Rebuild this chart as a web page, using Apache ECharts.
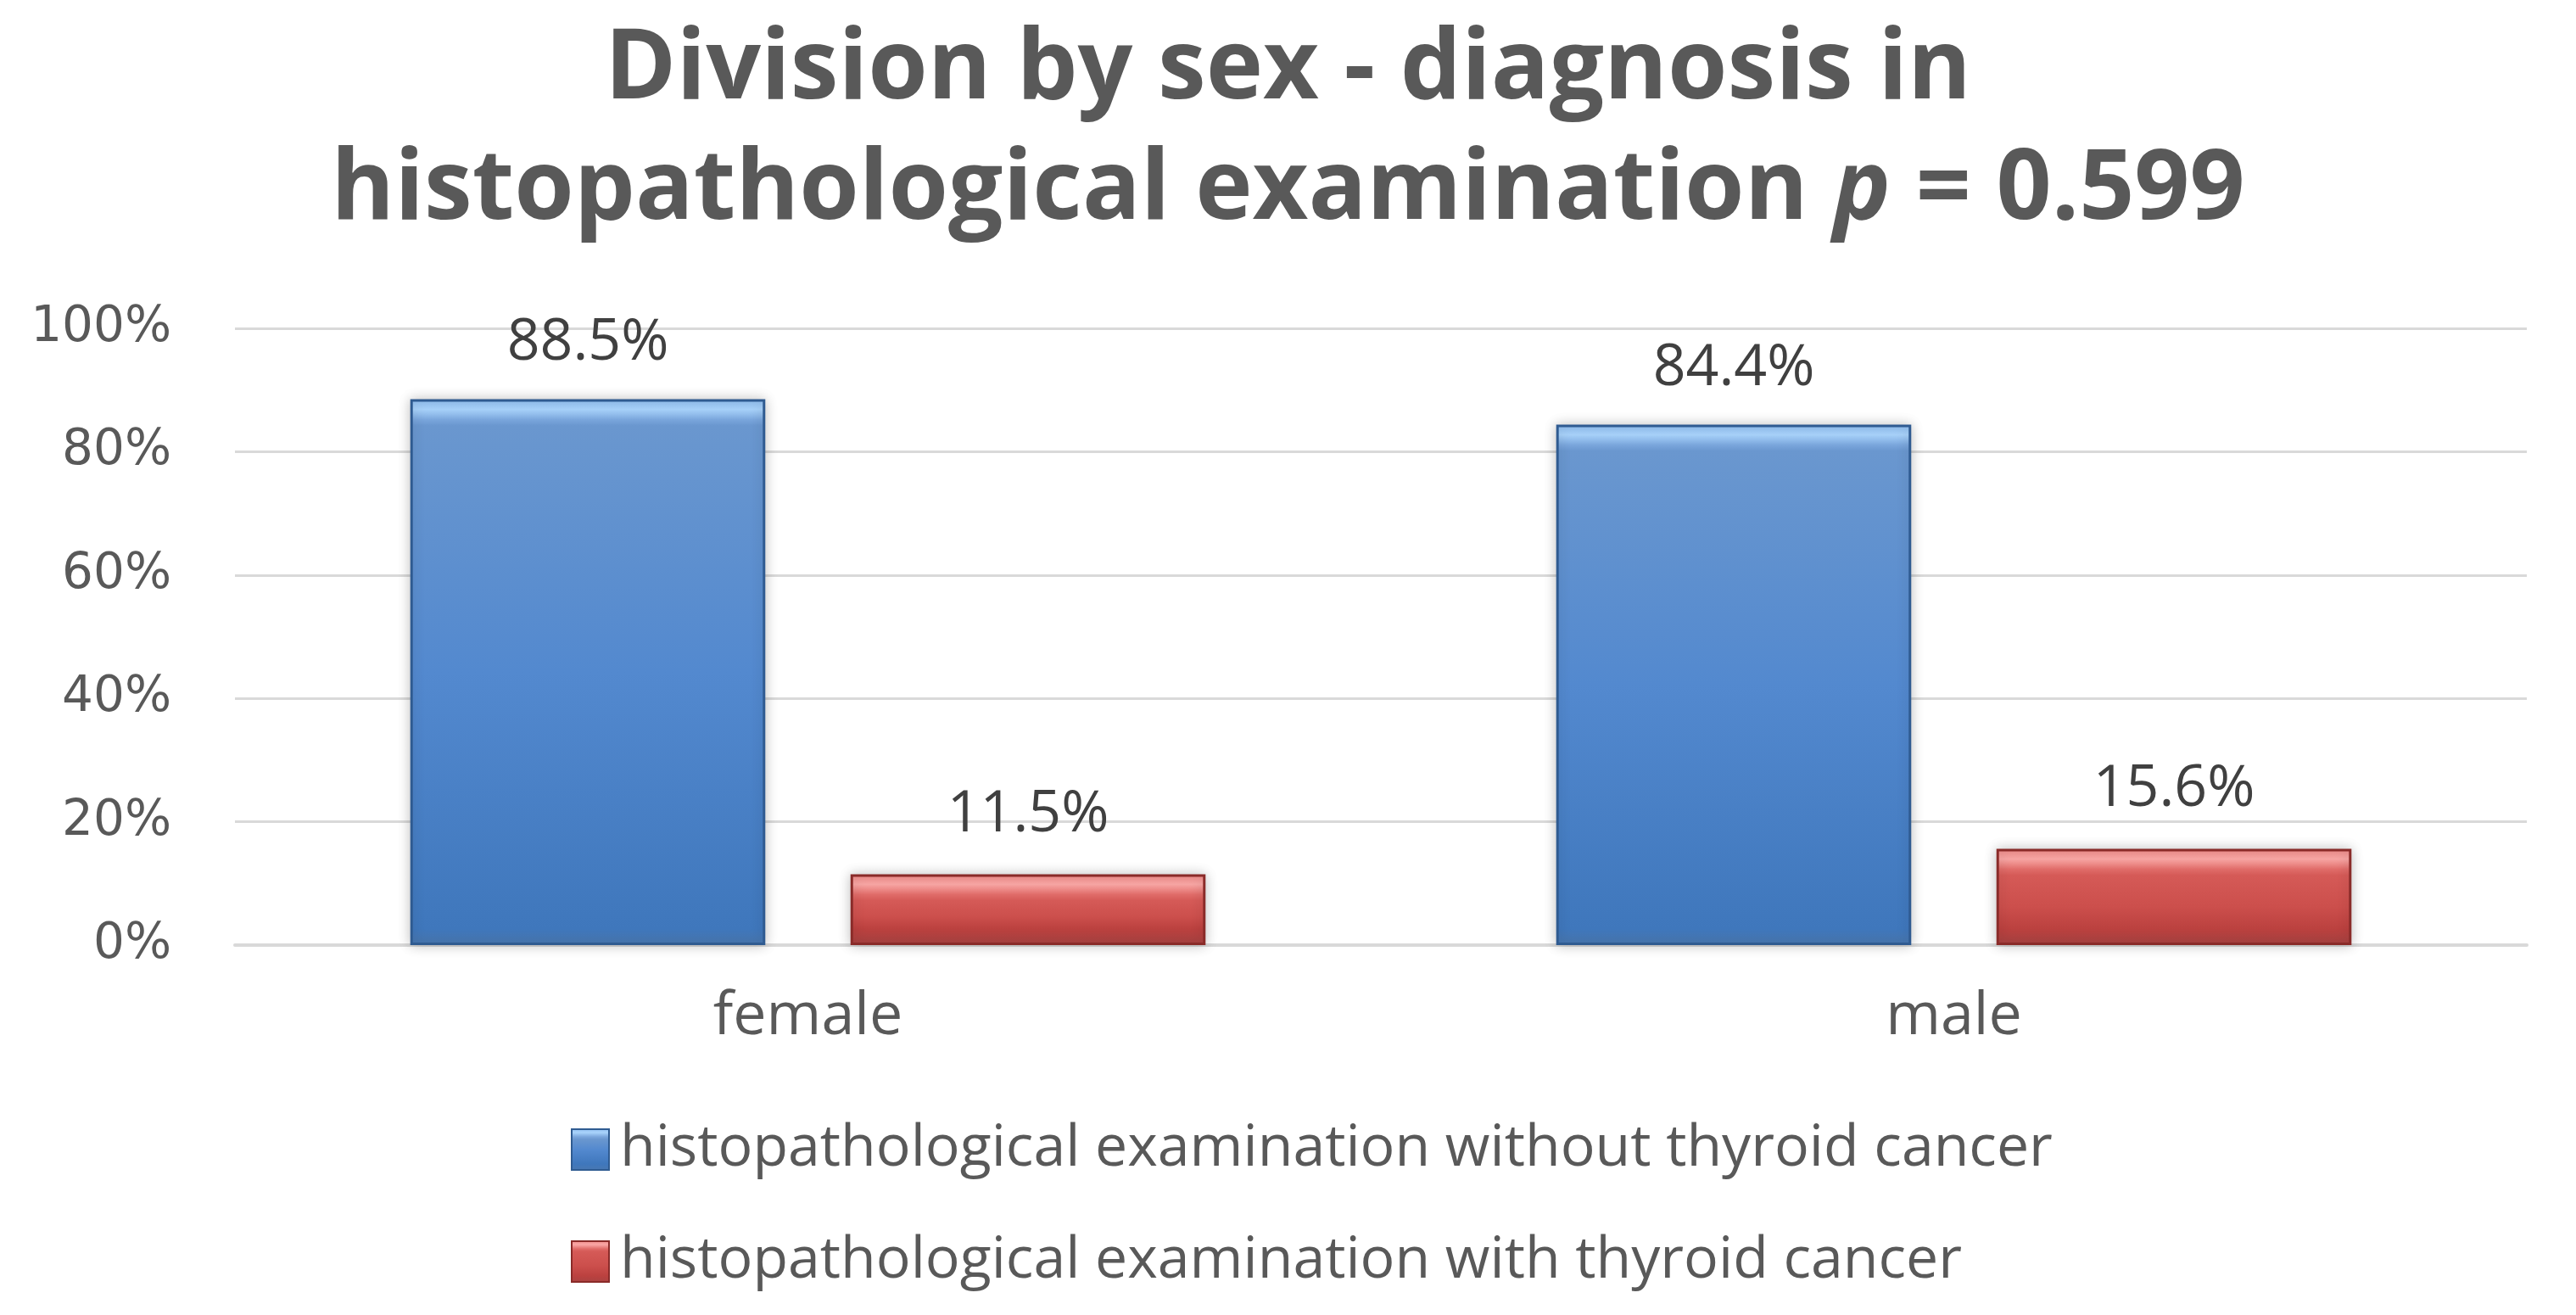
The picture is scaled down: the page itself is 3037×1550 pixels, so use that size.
<!DOCTYPE html>
<html>
<head>
<meta charset="utf-8">
<script src="https://cdn.jsdelivr.net/npm/echarts@6/dist/echarts.min.js"></script>
<style>
html,body{margin:0;padding:0;background:#fff;}
#chart{width:3037px;height:1550px;}
</style>
</head>
<body>
<div id="chart"></div>
<script>
const categories = ['female', 'male'];
const seriesNames = [
  'histopathological examination without thyroid cancer',
  'histopathological examination with thyroid cancer'
];
const withoutCancer = [88.5, 84.4];
const withCancer = [11.5, 15.6];
const yTicks = [0, 20, 40, 60, 80, 100];
const titleLine1 = 'Division by sex - diagnosis in';
const titleLine2a = 'histopathological examination ';
const titleItalic = 'p';
const titleLine2b = ' = 0.599';

const PLOT_H = 727;
const BEVEL = 24;

function blueGrad(frac) {
  return new echarts.graphic.LinearGradient(0, 0, 0, 1, [
    {offset: 0, color: '#8fbdf0'},
    {offset: Math.min(0.5, frac * 0.5), color: '#a9d3fb'},
    {offset: Math.min(0.6, frac), color: '#7aa6dc'},
    {offset: Math.min(0.65, frac * 1.3), color: '#6a97cf'},
    {offset: 0.5, color: '#5389cf'},
    {offset: Math.max(0.7, 1 - frac * 0.8), color: '#3f77bc'},
    {offset: 1, color: '#4a78b0'}
  ]);
}
function redGrad(frac) {
  return new echarts.graphic.LinearGradient(0, 0, 0, 1, [
    {offset: 0, color: '#f08a88'},
    {offset: Math.min(0.5, frac * 0.5), color: '#f9a7a5'},
    {offset: Math.min(0.6, frac), color: '#e06c69'},
    {offset: Math.min(0.65, frac * 1.3), color: '#d55a57'},
    {offset: 0.6, color: '#cc4f4c'},
    {offset: Math.max(0.75, 1 - frac * 0.8), color: '#bb413f'},
    {offset: 1, color: '#a84342'}
  ]);
}
function items(values, gradFn, border) {
  return values.map(v => {
    const h = v / 100 * PLOT_H;
    return {
      value: v,
      itemStyle: {color: gradFn(BEVEL / h), borderColor: border, borderWidth: 3}
    };
  });
}

const chart = echarts.init(document.getElementById('chart'), null, {renderer: 'canvas'});
chart.setOption({
  backgroundColor: '#ffffff',
  animation: false,
  title: {
    text: '{b|' + titleLine1 + '}\n{b|' + titleLine2a + '}{i|' + titleItalic + '}{b|' + titleLine2b + '}',
    left: 'center',
    top: 8,
    textStyle: {
      rich: {
        b: {fontFamily: 'Open Sans', fontWeight: 'bold', fontSize: 114, color: '#595959', lineHeight: 142},
        i: {fontFamily: 'Open Sans', fontWeight: 'bold', fontStyle: 'italic', fontSize: 114, color: '#595959', lineHeight: 142}
      }
    }
  },
  legend: {
    orient: 'vertical',
    left: 668,
    top: 1313,
    itemWidth: 44,
    itemHeight: 48,
    itemGap: 58,
    icon: 'rect',
    data: seriesNames,
    textStyle: {fontFamily: 'Open Sans', fontSize: 68, color: '#595959', lineHeight: 74, padding: [0, 0, 0, 8]}
  },
  grid: {left: 277, right: 58, top: 387, bottom: 436, containLabel: false},
  xAxis: {
    type: 'category',
    data: categories,
    axisLine: {lineStyle: {color: '#d9d9d9', width: 4}},
    axisTick: {show: false},
    axisLabel: {fontFamily: 'Open Sans', fontSize: 70, color: '#595959', margin: 50}
  },
  yAxis: {
    type: 'value',
    min: 0,
    max: 100,
    interval: 20,
    axisLine: {show: false},
    axisTick: {show: false},
    splitLine: {lineStyle: {color: '#d9d9d9', width: 3}},
    axisLabel: {
      fontFamily: 'DejaVu Sans', fontSize: 58, color: '#595959', margin: 75,
      formatter: v => yTicks.includes(v) ? v + '%' : ''
    }
  },
  series: [
    {
      name: seriesNames[0],
      type: 'bar',
      barGap: '24%',
      barCategoryGap: '30.6%',
      itemStyle: {color: blueGrad(0.2), borderColor: '#2f5b91', borderWidth: 3, shadowBlur: 14, shadowColor: 'rgba(0,0,0,0.22)', shadowOffsetX: 0, shadowOffsetY: 0},
      label: {show: true, position: 'top', distance: 32, fontFamily: 'Open Sans', fontSize: 68, color: '#404040', formatter: p => p.value.toFixed(1) + '%'},
      data: items(withoutCancer, blueGrad, '#2f5b91')
    },
    {
      name: seriesNames[1],
      type: 'bar',
      itemStyle: {color: redGrad(0.2), borderColor: '#8a2b29', borderWidth: 3, shadowBlur: 14, shadowColor: 'rgba(0,0,0,0.22)', shadowOffsetX: 0, shadowOffsetY: 0},
      label: {show: true, position: 'top', distance: 36, fontFamily: 'Open Sans', fontSize: 68, color: '#404040', formatter: p => p.value.toFixed(1) + '%'},
      data: items(withCancer, redGrad, '#8a2b29')
    }
  ]
});
</script>
</body>
</html>
